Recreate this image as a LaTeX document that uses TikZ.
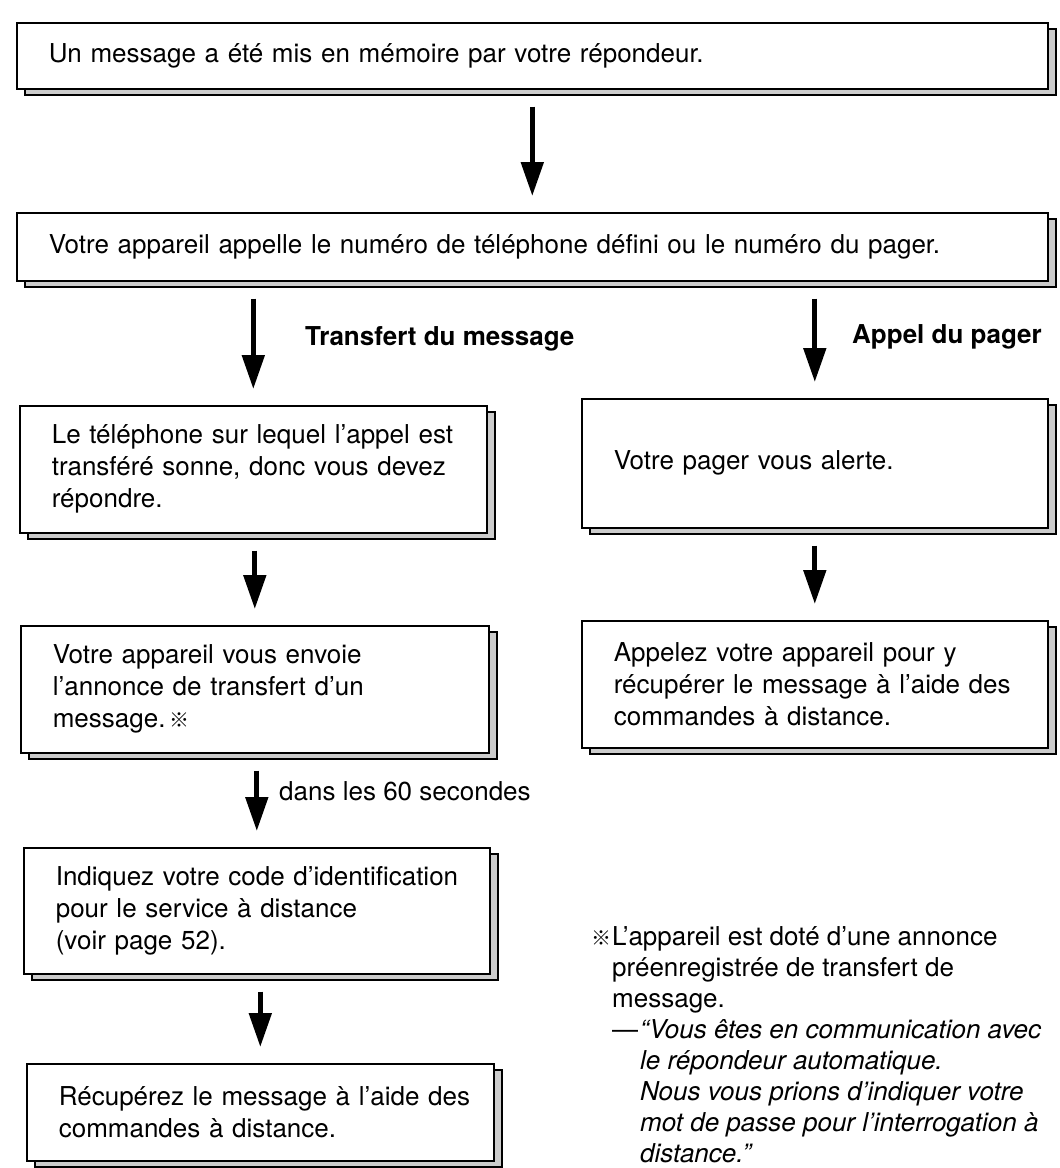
\documentclass[tikz,border=0pt]{standalone}
\usepackage{fontspec}
\setmainfont{TeX Gyre Heros}
\newfontfamily\cjk{Noto Sans CJK JP}
\usetikzlibrary{arrows.meta,shadows}
\newcommand{\refmark}{{\cjk\fontsize{20}{20}\selectfont ※}}
\newcommand{\oneline}[1]{\mbox{#1}}
\begin{document}
\begin{tikzpicture}[x=1pt,y=-1pt,
  txt/.style={font=\fontsize{26}{32}\selectfont},
  box/.style={txt, draw, line width=1.6pt, fill=white, anchor=north west,
    align=left, inner xsep=32pt, inner ysep=0pt,
    general shadow={fill=gray!40, draw=black, line width=1.4pt,
      shadow xshift=8pt, shadow yshift=-6pt}},
  arr/.style={line width=5pt, -{Triangle[length=34pt,width=22pt]},
    shorten <=17pt, shorten >=16pt},
  lbl/.style={txt, anchor=base west, inner sep=0pt}]
\useasboundingbox (0,0) rectangle (1060,1168);

\node[box, minimum width=1031pt, minimum height=66pt, text width=967pt] (b1) at (16,22)
  {Un message a été mis en mémoire par votre répondeur.};
\node[box, minimum width=1031pt, minimum height=68pt, text width=967pt] (b2) at (16,212)
  {Votre appareil appelle le numéro de téléphone défini ou le numéro du pager.};

\node[box, minimum width=467pt, minimum height=127pt, text width=403pt] (b3l) at (19,405)
  {\oneline{Le téléphone sur lequel l’appel est}\\\oneline{transféré sonne, donc vous devez}\\répondre.};
\node[box, minimum width=466pt, minimum height=129pt, text width=402pt] (b3r) at (581,398)
  {Votre pager vous alerte.};

\node[box, minimum width=468pt, minimum height=127pt, text width=404pt] (b4l) at (20,625)
  {\oneline{Votre appareil vous envoie}\\\oneline{l’annonce de transfert d’un}\\\oneline{message.\,\refmark}};
\node[box, minimum width=466pt, minimum height=127pt, text width=402pt] (b4r) at (581,620)
  {\oneline{Appelez votre appareil pour y}\\\oneline{récupérer le message à l’aide des}\\\oneline{commandes à distance.}};

\node[box, minimum width=466pt, minimum height=126pt, text width=402pt] (b5) at (23,847)
  {\oneline{Indiquez votre code d’identification}\\\oneline{pour le service à distance}\\\oneline{(voir page 52).}};
\node[box, minimum width=467pt, minimum height=97pt, text width=403pt] (b6) at (26,1063)
  {\oneline{Récupérez le message à l’aide des}\\\oneline{commandes à distance.}};

\draw[arr] (b1) -- (b2);
\draw[arr] (b3l.north |- b2.south) -- (b3l.north);
\draw[arr] (b3r.north |- b2.south) -- (b3r.north);
\draw[arr] (b4l.north |- b3l.south) -- (b4l.north);
\draw[arr] (b4r.north |- b3r.south) -- (b4r.north);
\draw[arr] (b5.north |- b4l.south) -- (b5.north);
\draw[arr] (b6.north |- b5.south) -- (b6.north);

\node[lbl, font=\fontsize{26}{32}\selectfont\bfseries] (t1) at (305,345) {Transfert du message};
\node[lbl, font=\fontsize{26}{32}\selectfont\bfseries] (t2) at (852,343) {Appel du pager};
\node[lbl] (t3) at (279,800) {dans les 60 secondes};

\node[txt, anchor=north west, align=left, inner sep=0pt,
  font=\fontsize{26}{31}\selectfont] (note) at (591,926)
  {\makebox[21pt][l]{\refmark}L’appareil est doté d’une annonce\\
   \hspace*{21pt}préenregistrée de transfert de\\
   \hspace*{21pt}message.\\
   \hspace*{21pt}\makebox[28pt][l]{—}\textit{“Vous êtes en communication avec}\\
   \hspace*{49pt}\textit{le répondeur automatique.}\\
   \hspace*{49pt}\textit{Nous vous prions d’indiquer votre}\\
   \hspace*{49pt}\textit{mot de passe pour l’interrogation à}\\
   \hspace*{49pt}\textit{distance.”}};
\end{tikzpicture}
\end{document}
